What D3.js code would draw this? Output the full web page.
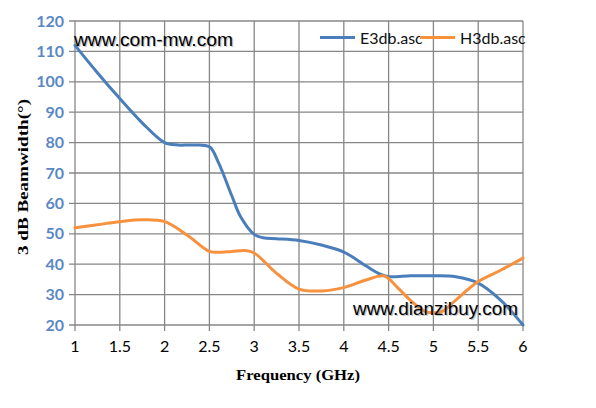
<!DOCTYPE html>
<html><head><meta charset="utf-8">
<script src="https://cdn.jsdelivr.net/npm/d3@7"></script>
<style>body{margin:0;background:#fff}</style>
</head><body><svg id="c" width="596" height="408"></svg>
<script>
const freqE = [1.0,1.25,1.5,1.75,2.0,2.15,2.3,2.5,2.6,2.75,2.85,3.0,3.1,3.25,3.5,3.75,4.0,4.25,4.4,4.5,4.75,5.0,5.25,5.5,5.75,6.0];
const e3db  = [112,103,94.5,86.5,80,79.2,79.2,78.6,73.5,62.5,55.5,49.8,48.7,48.4,47.8,46.3,44,39.4,36.8,35.9,36.2,36.2,35.9,33.8,28.2,20];
const freqH = [1.0,1.25,1.5,1.75,2.0,2.25,2.5,2.6,2.75,2.9,3.0,3.25,3.5,3.75,4.0,4.25,4.45,4.6,4.75,4.9,5.0,5.1,5.25,5.5,5.75,6.0];
const h3db  = [52,53,54,54.6,54,49.6,44.2,43.9,44.2,44.5,43.7,37,31.8,31.2,32.3,34.8,36.1,32.3,27.9,24.6,24,24.5,28.2,34.3,38,42];
const xTicks = [1,1.5,2,2.5,3,3.5,4,4.5,5,5.5,6];
const yTicks = [20,30,40,50,60,70,80,90,100,110,120];
const seriesNames = ["E3db.asc","H3db.asc"];
const colors = ["#4a7ebb","#f7913d"];

const svg = d3.select("#c");
const L=75, R=523, T=21, B=325;
const x = d3.scaleLinear().domain([1,6]).range([L,R]);
const y = d3.scaleLinear().domain([20,120]).range([B,T]);
const grid="#878787";

// gridlines
svg.append("g").selectAll("line").data(yTicks).join("line")
  .attr("x1",L-6).attr("x2",R).attr("y1",d=>y(d)).attr("y2",d=>y(d))
  .attr("stroke",grid).attr("stroke-width",1.3);
svg.append("g").selectAll("line").data(xTicks).join("line")
  .attr("x1",d=>x(d)).attr("x2",d=>x(d)).attr("y1",T).attr("y2",B+6)
  .attr("stroke",grid).attr("stroke-width",1.3);

// y tick labels
svg.append("g").selectAll("text").data(yTicks).join("text")
  .attr("x",L-11).attr("y",d=>y(d)).attr("dy","0.35em")
  .attr("text-anchor","end").attr("fill","#5a88c6")
  .attr("font-family","Lato, 'Open Sans', sans-serif").attr("font-weight","bold")
  .attr("font-size",16).text(d=>d);
// x tick labels
svg.append("g").selectAll("text").data(xTicks).join("text")
  .attr("x",d=>x(d)).attr("y",B+21).attr("dy","0.35em")
  .attr("text-anchor","middle").attr("fill","#000")
  .attr("font-family","Lato, 'Open Sans', sans-serif")
  .attr("font-size",16).text(d=>d);

// titles
svg.append("text").attr("x",298).attr("y",375).attr("dy","0.35em")
  .attr("text-anchor","middle").attr("font-family","'Liberation Serif', serif")
  .attr("font-weight","bold").attr("font-size",15).attr("textLength",124).attr("lengthAdjust","spacingAndGlyphs")
  .text("Frequency (GHz)");
svg.append("text").attr("transform","translate(23,177) rotate(-90)").attr("dy","0.35em")
  .attr("text-anchor","middle").attr("font-family","'Liberation Serif', serif")
  .attr("font-weight","bold").attr("font-size",15).attr("textLength",156).attr("lengthAdjust","spacingAndGlyphs")
  .text("3 dB Beamwidth(°)");

// lines
const line = d3.line().curve(d3.curveCatmullRom.alpha(0.5)).x(d=>x(d[0])).y(d=>y(d[1]));
const dataE = freqE.map((f,i)=>[f,e3db[i]]);
const dataH = freqH.map((f,i)=>[f,h3db[i]]);
svg.append("path").datum(dataE).attr("d",line).attr("fill","none").attr("stroke",colors[0]).attr("stroke-width",3).attr("stroke-linecap","round");
svg.append("path").datum(dataH).attr("d",line).attr("fill","none").attr("stroke",colors[1]).attr("stroke-width",3).attr("stroke-linecap","round");

// legend
const leg = [{x1:320,tx:360},{x1:420,tx:460}];
leg.forEach((l,i)=>{
  svg.append("line").attr("x1",l.x1).attr("x2",l.x1+35).attr("y1",37.5).attr("y2",37.5)
    .attr("stroke",colors[i]).attr("stroke-width",3);
  svg.append("text").attr("x",l.tx).attr("y",38).attr("dy","0.35em")
    .attr("font-family","Lato, 'Open Sans', sans-serif").attr("font-size",16).attr("fill","#111")
    .text(seriesNames[i]);
});

// watermarks
function wm(t,x0,yb,w){
  svg.append("text").attr("x",x0+1.2).attr("y",yb+1.2).attr("fill","#9a9a9a").attr("opacity",0.6)
    .attr("font-family","'Liberation Sans', Arial, sans-serif").attr("font-size",18)
    .attr("textLength",w).attr("lengthAdjust","spacingAndGlyphs").text(t);
  svg.append("text").attr("x",x0).attr("y",yb).attr("fill","#000")
    .attr("font-family","'Liberation Sans', Arial, sans-serif").attr("font-size",18)
    .attr("textLength",w).attr("lengthAdjust","spacingAndGlyphs").text(t);
}
wm("www.com-mw.com",74,46,159);
wm("www.dianzibuy.com",353,315,165);
</script></body></html>
